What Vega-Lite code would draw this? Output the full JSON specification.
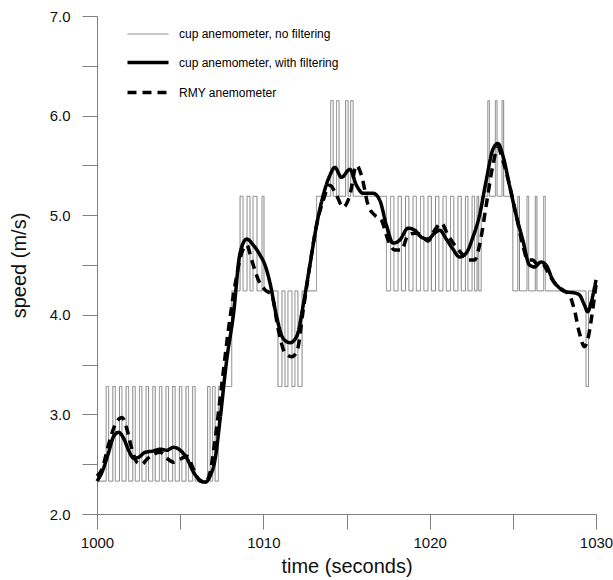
{
  "$schema": "https://vega.github.io/schema/vega-lite/v6.json",
  "width": 499,
  "height": 498,
  "autosize": {"type": "none"},
  "padding": {"left": 97, "top": 16, "right": 17, "bottom": 66},
  "background": "white",
  "config": {
    "view": {"stroke": null},
    "font": "Liberation Sans",
    "legend": {
      "orient": "none",
      "legendX": 28.5,
      "legendY": -3,
      "padding": 0,
      "symbolType": "stroke",
      "symbolSize": 1681,
      "labelFontSize": 12,
      "labelFont": "Liberation Sans",
      "labelColor": "#000000",
      "labelOffset": 8.5,
      "labelLimit": 0,
      "rowPadding": -3
    }
  },
  "datasets": {
    "cup": [
      {"series": "cup anemometer, no filtering", "t": 1000.00, "v": 2.33},
      {"series": "cup anemometer, no filtering", "t": 1000.55, "v": 3.28},
      {"series": "cup anemometer, no filtering", "t": 1000.70, "v": 2.33},
      {"series": "cup anemometer, no filtering", "t": 1000.95, "v": 3.28},
      {"series": "cup anemometer, no filtering", "t": 1001.10, "v": 2.33},
      {"series": "cup anemometer, no filtering", "t": 1001.35, "v": 3.28},
      {"series": "cup anemometer, no filtering", "t": 1001.50, "v": 2.33},
      {"series": "cup anemometer, no filtering", "t": 1001.75, "v": 3.28},
      {"series": "cup anemometer, no filtering", "t": 1001.90, "v": 2.33},
      {"series": "cup anemometer, no filtering", "t": 1002.15, "v": 3.28},
      {"series": "cup anemometer, no filtering", "t": 1002.30, "v": 2.33},
      {"series": "cup anemometer, no filtering", "t": 1002.55, "v": 3.28},
      {"series": "cup anemometer, no filtering", "t": 1002.70, "v": 2.33},
      {"series": "cup anemometer, no filtering", "t": 1002.95, "v": 3.28},
      {"series": "cup anemometer, no filtering", "t": 1003.10, "v": 2.33},
      {"series": "cup anemometer, no filtering", "t": 1003.35, "v": 3.28},
      {"series": "cup anemometer, no filtering", "t": 1003.50, "v": 2.33},
      {"series": "cup anemometer, no filtering", "t": 1003.75, "v": 3.28},
      {"series": "cup anemometer, no filtering", "t": 1003.90, "v": 2.33},
      {"series": "cup anemometer, no filtering", "t": 1004.15, "v": 3.28},
      {"series": "cup anemometer, no filtering", "t": 1004.30, "v": 2.33},
      {"series": "cup anemometer, no filtering", "t": 1004.55, "v": 3.28},
      {"series": "cup anemometer, no filtering", "t": 1004.70, "v": 2.33},
      {"series": "cup anemometer, no filtering", "t": 1004.95, "v": 3.28},
      {"series": "cup anemometer, no filtering", "t": 1005.10, "v": 2.33},
      {"series": "cup anemometer, no filtering", "t": 1005.35, "v": 3.28},
      {"series": "cup anemometer, no filtering", "t": 1005.50, "v": 2.33},
      {"series": "cup anemometer, no filtering", "t": 1005.75, "v": 3.28},
      {"series": "cup anemometer, no filtering", "t": 1005.90, "v": 2.33},
      {"series": "cup anemometer, no filtering", "t": 1006.65, "v": 3.28},
      {"series": "cup anemometer, no filtering", "t": 1006.80, "v": 2.33},
      {"series": "cup anemometer, no filtering", "t": 1006.95, "v": 3.28},
      {"series": "cup anemometer, no filtering", "t": 1007.10, "v": 2.33},
      {"series": "cup anemometer, no filtering", "t": 1007.30, "v": 3.28},
      {"series": "cup anemometer, no filtering", "t": 1008.10, "v": 4.24},
      {"series": "cup anemometer, no filtering", "t": 1008.60, "v": 5.19},
      {"series": "cup anemometer, no filtering", "t": 1008.78, "v": 4.24},
      {"series": "cup anemometer, no filtering", "t": 1009.02, "v": 5.19},
      {"series": "cup anemometer, no filtering", "t": 1009.20, "v": 4.24},
      {"series": "cup anemometer, no filtering", "t": 1009.38, "v": 5.19},
      {"series": "cup anemometer, no filtering", "t": 1009.62, "v": 4.24},
      {"series": "cup anemometer, no filtering", "t": 1009.92, "v": 5.19},
      {"series": "cup anemometer, no filtering", "t": 1010.04, "v": 4.24},
      {"series": "cup anemometer, no filtering", "t": 1010.88, "v": 3.28},
      {"series": "cup anemometer, no filtering", "t": 1011.12, "v": 4.24},
      {"series": "cup anemometer, no filtering", "t": 1011.30, "v": 3.28},
      {"series": "cup anemometer, no filtering", "t": 1011.48, "v": 4.24},
      {"series": "cup anemometer, no filtering", "t": 1011.72, "v": 3.28},
      {"series": "cup anemometer, no filtering", "t": 1011.90, "v": 4.24},
      {"series": "cup anemometer, no filtering", "t": 1012.08, "v": 3.28},
      {"series": "cup anemometer, no filtering", "t": 1012.33, "v": 4.24},
      {"series": "cup anemometer, no filtering", "t": 1013.20, "v": 5.19},
      {"series": "cup anemometer, no filtering", "t": 1014.05, "v": 6.15},
      {"series": "cup anemometer, no filtering", "t": 1014.20, "v": 5.19},
      {"series": "cup anemometer, no filtering", "t": 1014.40, "v": 6.15},
      {"series": "cup anemometer, no filtering", "t": 1014.55, "v": 5.19},
      {"series": "cup anemometer, no filtering", "t": 1014.95, "v": 6.15},
      {"series": "cup anemometer, no filtering", "t": 1015.10, "v": 5.19},
      {"series": "cup anemometer, no filtering", "t": 1015.25, "v": 6.15},
      {"series": "cup anemometer, no filtering", "t": 1015.40, "v": 5.19},
      {"series": "cup anemometer, no filtering", "t": 1017.40, "v": 4.24},
      {"series": "cup anemometer, no filtering", "t": 1017.65, "v": 5.19},
      {"series": "cup anemometer, no filtering", "t": 1017.85, "v": 4.24},
      {"series": "cup anemometer, no filtering", "t": 1018.10, "v": 5.19},
      {"series": "cup anemometer, no filtering", "t": 1018.30, "v": 4.24},
      {"series": "cup anemometer, no filtering", "t": 1018.55, "v": 5.19},
      {"series": "cup anemometer, no filtering", "t": 1018.75, "v": 4.24},
      {"series": "cup anemometer, no filtering", "t": 1019.00, "v": 5.19},
      {"series": "cup anemometer, no filtering", "t": 1019.20, "v": 4.24},
      {"series": "cup anemometer, no filtering", "t": 1019.45, "v": 5.19},
      {"series": "cup anemometer, no filtering", "t": 1019.65, "v": 4.24},
      {"series": "cup anemometer, no filtering", "t": 1019.90, "v": 5.19},
      {"series": "cup anemometer, no filtering", "t": 1020.10, "v": 4.24},
      {"series": "cup anemometer, no filtering", "t": 1020.35, "v": 5.19},
      {"series": "cup anemometer, no filtering", "t": 1020.55, "v": 4.24},
      {"series": "cup anemometer, no filtering", "t": 1020.80, "v": 5.19},
      {"series": "cup anemometer, no filtering", "t": 1021.00, "v": 4.24},
      {"series": "cup anemometer, no filtering", "t": 1021.25, "v": 5.19},
      {"series": "cup anemometer, no filtering", "t": 1021.45, "v": 4.24},
      {"series": "cup anemometer, no filtering", "t": 1021.70, "v": 5.19},
      {"series": "cup anemometer, no filtering", "t": 1021.90, "v": 4.24},
      {"series": "cup anemometer, no filtering", "t": 1022.15, "v": 5.19},
      {"series": "cup anemometer, no filtering", "t": 1022.30, "v": 4.24},
      {"series": "cup anemometer, no filtering", "t": 1022.55, "v": 5.19},
      {"series": "cup anemometer, no filtering", "t": 1022.70, "v": 4.24},
      {"series": "cup anemometer, no filtering", "t": 1022.85, "v": 5.19},
      {"series": "cup anemometer, no filtering", "t": 1022.95, "v": 4.24},
      {"series": "cup anemometer, no filtering", "t": 1023.10, "v": 5.19},
      {"series": "cup anemometer, no filtering", "t": 1023.50, "v": 6.15},
      {"series": "cup anemometer, no filtering", "t": 1023.60, "v": 5.19},
      {"series": "cup anemometer, no filtering", "t": 1023.95, "v": 6.15},
      {"series": "cup anemometer, no filtering", "t": 1024.05, "v": 5.19},
      {"series": "cup anemometer, no filtering", "t": 1024.35, "v": 6.15},
      {"series": "cup anemometer, no filtering", "t": 1024.45, "v": 5.19},
      {"series": "cup anemometer, no filtering", "t": 1025.00, "v": 4.24},
      {"series": "cup anemometer, no filtering", "t": 1025.30, "v": 5.19},
      {"series": "cup anemometer, no filtering", "t": 1025.40, "v": 4.24},
      {"series": "cup anemometer, no filtering", "t": 1025.85, "v": 5.19},
      {"series": "cup anemometer, no filtering", "t": 1025.95, "v": 4.24},
      {"series": "cup anemometer, no filtering", "t": 1026.35, "v": 5.19},
      {"series": "cup anemometer, no filtering", "t": 1026.45, "v": 4.24},
      {"series": "cup anemometer, no filtering", "t": 1026.85, "v": 5.19},
      {"series": "cup anemometer, no filtering", "t": 1026.95, "v": 4.24},
      {"series": "cup anemometer, no filtering", "t": 1029.40, "v": 3.28},
      {"series": "cup anemometer, no filtering", "t": 1029.55, "v": 4.24},
      {"series": "cup anemometer, no filtering", "t": 1030.00, "v": 4.24}
    ],
    "filt": [
      {"series": "cup anemometer, with filtering", "t": 1000.0, "v": 2.33},
      {"series": "cup anemometer, with filtering", "t": 1000.3, "v": 2.42},
      {"series": "cup anemometer, with filtering", "t": 1000.7, "v": 2.62},
      {"series": "cup anemometer, with filtering", "t": 1001.0, "v": 2.78},
      {"series": "cup anemometer, with filtering", "t": 1001.3, "v": 2.82},
      {"series": "cup anemometer, with filtering", "t": 1001.6, "v": 2.76},
      {"series": "cup anemometer, with filtering", "t": 1001.9, "v": 2.64},
      {"series": "cup anemometer, with filtering", "t": 1002.2, "v": 2.56},
      {"series": "cup anemometer, with filtering", "t": 1002.5, "v": 2.57},
      {"series": "cup anemometer, with filtering", "t": 1002.9, "v": 2.62},
      {"series": "cup anemometer, with filtering", "t": 1003.3, "v": 2.63},
      {"series": "cup anemometer, with filtering", "t": 1003.8, "v": 2.65},
      {"series": "cup anemometer, with filtering", "t": 1004.2, "v": 2.64},
      {"series": "cup anemometer, with filtering", "t": 1004.6, "v": 2.67},
      {"series": "cup anemometer, with filtering", "t": 1005.0, "v": 2.64},
      {"series": "cup anemometer, with filtering", "t": 1005.4, "v": 2.56},
      {"series": "cup anemometer, with filtering", "t": 1005.8, "v": 2.42},
      {"series": "cup anemometer, with filtering", "t": 1006.2, "v": 2.34},
      {"series": "cup anemometer, with filtering", "t": 1006.5, "v": 2.32},
      {"series": "cup anemometer, with filtering", "t": 1006.8, "v": 2.38},
      {"series": "cup anemometer, with filtering", "t": 1007.1, "v": 2.55},
      {"series": "cup anemometer, with filtering", "t": 1007.4, "v": 2.95},
      {"series": "cup anemometer, with filtering", "t": 1007.8, "v": 3.55},
      {"series": "cup anemometer, with filtering", "t": 1008.2, "v": 4.0},
      {"series": "cup anemometer, with filtering", "t": 1008.6, "v": 4.62},
      {"series": "cup anemometer, with filtering", "t": 1009.0, "v": 4.76},
      {"series": "cup anemometer, with filtering", "t": 1009.4, "v": 4.7},
      {"series": "cup anemometer, with filtering", "t": 1009.8, "v": 4.6},
      {"series": "cup anemometer, with filtering", "t": 1010.1, "v": 4.5},
      {"series": "cup anemometer, with filtering", "t": 1010.4, "v": 4.32},
      {"series": "cup anemometer, with filtering", "t": 1010.8, "v": 3.98},
      {"series": "cup anemometer, with filtering", "t": 1011.2, "v": 3.76},
      {"series": "cup anemometer, with filtering", "t": 1011.6, "v": 3.72},
      {"series": "cup anemometer, with filtering", "t": 1012.0, "v": 3.78},
      {"series": "cup anemometer, with filtering", "t": 1012.4, "v": 4.1},
      {"series": "cup anemometer, with filtering", "t": 1012.8, "v": 4.5},
      {"series": "cup anemometer, with filtering", "t": 1013.2, "v": 4.9},
      {"series": "cup anemometer, with filtering", "t": 1013.6, "v": 5.2},
      {"series": "cup anemometer, with filtering", "t": 1014.0, "v": 5.4},
      {"series": "cup anemometer, with filtering", "t": 1014.3, "v": 5.48},
      {"series": "cup anemometer, with filtering", "t": 1014.7, "v": 5.38},
      {"series": "cup anemometer, with filtering", "t": 1015.2, "v": 5.46},
      {"series": "cup anemometer, with filtering", "t": 1015.6, "v": 5.3},
      {"series": "cup anemometer, with filtering", "t": 1016.0, "v": 5.22},
      {"series": "cup anemometer, with filtering", "t": 1016.6, "v": 5.22},
      {"series": "cup anemometer, with filtering", "t": 1017.0, "v": 5.15},
      {"series": "cup anemometer, with filtering", "t": 1017.4, "v": 4.9},
      {"series": "cup anemometer, with filtering", "t": 1017.8, "v": 4.72},
      {"series": "cup anemometer, with filtering", "t": 1018.2, "v": 4.75},
      {"series": "cup anemometer, with filtering", "t": 1018.7, "v": 4.87},
      {"series": "cup anemometer, with filtering", "t": 1019.1, "v": 4.85},
      {"series": "cup anemometer, with filtering", "t": 1019.5, "v": 4.78},
      {"series": "cup anemometer, with filtering", "t": 1019.9, "v": 4.76},
      {"series": "cup anemometer, with filtering", "t": 1020.3, "v": 4.82},
      {"series": "cup anemometer, with filtering", "t": 1020.6, "v": 4.85},
      {"series": "cup anemometer, with filtering", "t": 1021.0, "v": 4.76},
      {"series": "cup anemometer, with filtering", "t": 1021.4, "v": 4.66},
      {"series": "cup anemometer, with filtering", "t": 1021.8, "v": 4.58},
      {"series": "cup anemometer, with filtering", "t": 1022.2, "v": 4.62},
      {"series": "cup anemometer, with filtering", "t": 1022.6, "v": 4.78},
      {"series": "cup anemometer, with filtering", "t": 1023.0, "v": 5.0},
      {"series": "cup anemometer, with filtering", "t": 1023.4, "v": 5.35},
      {"series": "cup anemometer, with filtering", "t": 1023.8, "v": 5.66},
      {"series": "cup anemometer, with filtering", "t": 1024.1, "v": 5.72},
      {"series": "cup anemometer, with filtering", "t": 1024.4, "v": 5.6},
      {"series": "cup anemometer, with filtering", "t": 1024.8, "v": 5.3},
      {"series": "cup anemometer, with filtering", "t": 1025.2, "v": 5.0},
      {"series": "cup anemometer, with filtering", "t": 1025.6, "v": 4.75},
      {"series": "cup anemometer, with filtering", "t": 1026.0, "v": 4.5},
      {"series": "cup anemometer, with filtering", "t": 1026.3, "v": 4.48},
      {"series": "cup anemometer, with filtering", "t": 1026.7, "v": 4.53},
      {"series": "cup anemometer, with filtering", "t": 1027.0, "v": 4.5},
      {"series": "cup anemometer, with filtering", "t": 1027.4, "v": 4.35},
      {"series": "cup anemometer, with filtering", "t": 1027.8, "v": 4.27},
      {"series": "cup anemometer, with filtering", "t": 1028.2, "v": 4.23},
      {"series": "cup anemometer, with filtering", "t": 1028.7, "v": 4.22},
      {"series": "cup anemometer, with filtering", "t": 1029.0, "v": 4.2},
      {"series": "cup anemometer, with filtering", "t": 1029.3, "v": 4.1},
      {"series": "cup anemometer, with filtering", "t": 1029.5, "v": 4.03},
      {"series": "cup anemometer, with filtering", "t": 1029.7, "v": 4.12},
      {"series": "cup anemometer, with filtering", "t": 1030.0, "v": 4.35}
    ],
    "rmy": [
      {"series": "RMY anemometer", "t": 1000.0, "v": 2.38},
      {"series": "RMY anemometer", "t": 1000.3, "v": 2.45},
      {"series": "RMY anemometer", "t": 1000.7, "v": 2.7},
      {"series": "RMY anemometer", "t": 1001.1, "v": 2.9},
      {"series": "RMY anemometer", "t": 1001.5, "v": 2.97},
      {"series": "RMY anemometer", "t": 1001.8, "v": 2.85},
      {"series": "RMY anemometer", "t": 1002.1, "v": 2.65},
      {"series": "RMY anemometer", "t": 1002.4, "v": 2.52},
      {"series": "RMY anemometer", "t": 1002.7, "v": 2.5},
      {"series": "RMY anemometer", "t": 1003.0, "v": 2.55},
      {"series": "RMY anemometer", "t": 1003.4, "v": 2.6},
      {"series": "RMY anemometer", "t": 1003.8, "v": 2.62},
      {"series": "RMY anemometer", "t": 1004.2, "v": 2.56},
      {"series": "RMY anemometer", "t": 1004.6, "v": 2.52},
      {"series": "RMY anemometer", "t": 1005.0, "v": 2.55},
      {"series": "RMY anemometer", "t": 1005.4, "v": 2.58},
      {"series": "RMY anemometer", "t": 1005.8, "v": 2.45},
      {"series": "RMY anemometer", "t": 1006.2, "v": 2.33},
      {"series": "RMY anemometer", "t": 1006.5, "v": 2.32},
      {"series": "RMY anemometer", "t": 1006.8, "v": 2.42},
      {"series": "RMY anemometer", "t": 1007.1, "v": 2.75},
      {"series": "RMY anemometer", "t": 1007.5, "v": 3.3},
      {"series": "RMY anemometer", "t": 1007.9, "v": 3.85},
      {"series": "RMY anemometer", "t": 1008.3, "v": 4.3},
      {"series": "RMY anemometer", "t": 1008.7, "v": 4.62},
      {"series": "RMY anemometer", "t": 1009.0, "v": 4.7},
      {"series": "RMY anemometer", "t": 1009.3, "v": 4.55},
      {"series": "RMY anemometer", "t": 1009.7, "v": 4.35},
      {"series": "RMY anemometer", "t": 1010.1, "v": 4.25},
      {"series": "RMY anemometer", "t": 1010.5, "v": 4.2},
      {"series": "RMY anemometer", "t": 1010.9, "v": 3.85},
      {"series": "RMY anemometer", "t": 1011.3, "v": 3.62},
      {"series": "RMY anemometer", "t": 1011.7, "v": 3.58},
      {"series": "RMY anemometer", "t": 1012.0, "v": 3.62},
      {"series": "RMY anemometer", "t": 1012.4, "v": 4.05},
      {"series": "RMY anemometer", "t": 1012.8, "v": 4.5},
      {"series": "RMY anemometer", "t": 1013.2, "v": 4.9},
      {"series": "RMY anemometer", "t": 1013.6, "v": 5.15},
      {"series": "RMY anemometer", "t": 1014.0, "v": 5.3},
      {"series": "RMY anemometer", "t": 1014.4, "v": 5.2},
      {"series": "RMY anemometer", "t": 1014.8, "v": 5.08},
      {"series": "RMY anemometer", "t": 1015.2, "v": 5.2},
      {"series": "RMY anemometer", "t": 1015.6, "v": 5.5},
      {"series": "RMY anemometer", "t": 1015.9, "v": 5.4},
      {"series": "RMY anemometer", "t": 1016.3, "v": 5.1},
      {"series": "RMY anemometer", "t": 1016.7, "v": 5.0},
      {"series": "RMY anemometer", "t": 1017.1, "v": 4.95},
      {"series": "RMY anemometer", "t": 1017.5, "v": 4.75},
      {"series": "RMY anemometer", "t": 1017.9, "v": 4.65},
      {"series": "RMY anemometer", "t": 1018.3, "v": 4.65},
      {"series": "RMY anemometer", "t": 1018.7, "v": 4.8},
      {"series": "RMY anemometer", "t": 1019.1, "v": 4.82},
      {"series": "RMY anemometer", "t": 1019.5, "v": 4.8},
      {"series": "RMY anemometer", "t": 1019.9, "v": 4.74},
      {"series": "RMY anemometer", "t": 1020.3, "v": 4.85},
      {"series": "RMY anemometer", "t": 1020.7, "v": 4.92},
      {"series": "RMY anemometer", "t": 1021.1, "v": 4.8},
      {"series": "RMY anemometer", "t": 1021.5, "v": 4.7},
      {"series": "RMY anemometer", "t": 1021.9, "v": 4.62},
      {"series": "RMY anemometer", "t": 1022.3, "v": 4.55},
      {"series": "RMY anemometer", "t": 1022.7, "v": 4.55},
      {"series": "RMY anemometer", "t": 1023.0, "v": 4.7},
      {"series": "RMY anemometer", "t": 1023.4, "v": 5.1},
      {"series": "RMY anemometer", "t": 1023.8, "v": 5.5},
      {"series": "RMY anemometer", "t": 1024.1, "v": 5.68},
      {"series": "RMY anemometer", "t": 1024.4, "v": 5.55},
      {"series": "RMY anemometer", "t": 1024.8, "v": 5.3},
      {"series": "RMY anemometer", "t": 1025.2, "v": 5.0},
      {"series": "RMY anemometer", "t": 1025.6, "v": 4.7},
      {"series": "RMY anemometer", "t": 1025.9, "v": 4.55},
      {"series": "RMY anemometer", "t": 1026.2, "v": 4.55},
      {"series": "RMY anemometer", "t": 1026.5, "v": 4.5},
      {"series": "RMY anemometer", "t": 1026.8, "v": 4.5},
      {"series": "RMY anemometer", "t": 1027.2, "v": 4.4},
      {"series": "RMY anemometer", "t": 1027.6, "v": 4.3},
      {"series": "RMY anemometer", "t": 1028.0, "v": 4.25},
      {"series": "RMY anemometer", "t": 1028.4, "v": 4.2},
      {"series": "RMY anemometer", "t": 1028.7, "v": 4.05},
      {"series": "RMY anemometer", "t": 1029.0, "v": 3.82},
      {"series": "RMY anemometer", "t": 1029.3, "v": 3.68},
      {"series": "RMY anemometer", "t": 1029.5, "v": 3.75},
      {"series": "RMY anemometer", "t": 1029.8, "v": 4.05},
      {"series": "RMY anemometer", "t": 1030.0, "v": 4.3}
    ]
  },
  "encoding": {
    "x": {
      "field": "t",
      "type": "quantitative",
      "scale": {"domain": [1000, 1030], "nice": false, "zero": false},
      "axis": {
        "title": "time (seconds)",
        "values": [1000, 1005, 1010, 1015, 1020, 1025, 1030],
        "format": "d",
        "labelExpr": "datum.value % 10 === 0 ? datum.label : ''",
        "grid": false,
        "tickSize": 15,
        "domainColor": "#808080",
        "tickColor": "#808080",
        "labelFontSize": 15,
        "labelColor": "#111111",
        "labelFont": "Liberation Sans",
        "labelPadding": 6,
        "labelFlush": false,
        "titleFont": "Liberation Sans",
        "titleFontSize": 20,
        "titleFontWeight": "normal",
        "titleColor": "#111111",
        "titlePadding": 6
      }
    },
    "y": {
      "field": "v",
      "type": "quantitative",
      "scale": {"domain": [2, 7], "nice": false, "zero": false},
      "axis": {
        "title": "speed (m/s)",
        "values": [2, 2.5, 3, 3.5, 4, 4.5, 5, 5.5, 6, 6.5, 7],
        "format": ".1f",
        "labelExpr": "datum.value % 1 === 0 ? datum.label : ''",
        "grid": false,
        "tickSize": 15,
        "domainColor": "#808080",
        "tickColor": "#808080",
        "labelFontSize": 15,
        "labelColor": "#111111",
        "labelFont": "Liberation Sans",
        "labelPadding": 12,
        "labelFlush": false,
        "titleFont": "Liberation Sans",
        "titleFontSize": 20,
        "titleFontWeight": "normal",
        "titleColor": "#111111",
        "titlePadding": 20
      }
    },
    "color": {
      "field": "series",
      "type": "nominal",
      "title": null,
      "scale": {
        "domain": ["cup anemometer, no filtering", "cup anemometer, with filtering", "RMY anemometer"],
        "range": ["#808080", "#000000", "#000000"]
      }
    },
    "strokeDash": {
      "field": "series",
      "type": "nominal",
      "title": null,
      "scale": {
        "domain": ["cup anemometer, no filtering", "cup anemometer, with filtering", "RMY anemometer"],
        "range": [[1, 0], [1, 0], [9, 6]]
      }
    },
    "strokeWidth": {
      "field": "series",
      "type": "nominal",
      "title": null,
      "scale": {
        "type": "ordinal",
        "domain": ["cup anemometer, no filtering", "cup anemometer, with filtering", "RMY anemometer"],
        "range": [1, 3.5, 3.5]
      }
    }
  },
  "layer": [
    {"data": {"name": "cup"}, "mark": {"type": "line", "interpolate": "step-after"}},
    {"data": {"name": "rmy"}, "mark": {"type": "line", "interpolate": "monotone"}},
    {"data": {"name": "filt"}, "mark": {"type": "line", "interpolate": "monotone", "strokeJoin": "round"}}
  ]
}
